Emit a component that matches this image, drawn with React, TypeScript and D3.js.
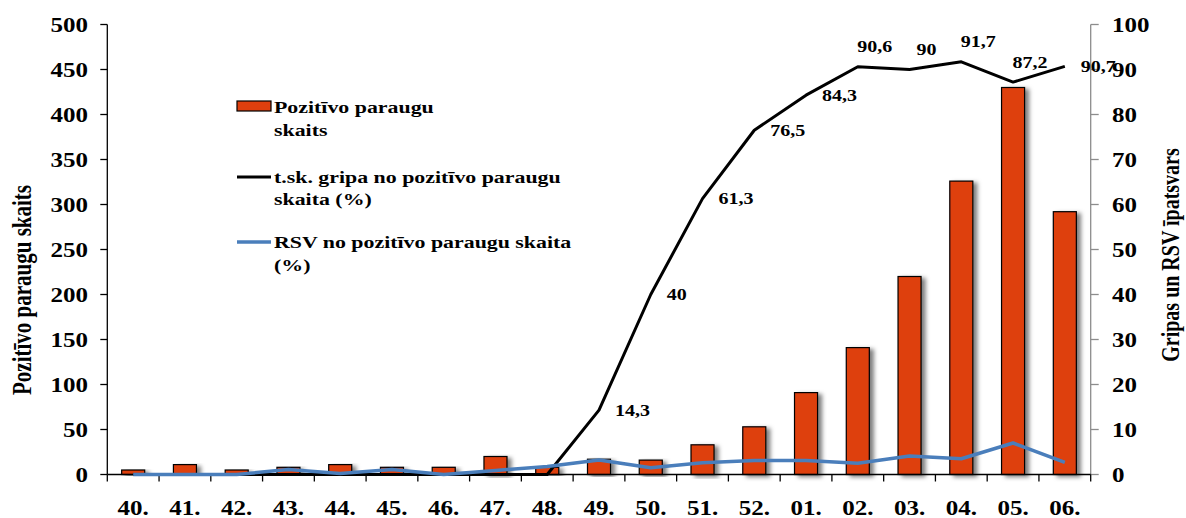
import React from 'react';
import * as d3 from 'd3';

const weeks = ['40.', '41.', '42.', '43.', '44.', '45.', '46.', '47.', '48.', '49.', '50.', '51.', '52.', '01.', '02.', '03.', '04.', '05.', '06.'];
const positiveCounts = [5, 11, 5, 8, 11, 8, 8, 20, 8, 17, 16, 33, 53, 91, 141, 220, 326, 430, 292];
const fluShare = [0, 0, 0, 0, 0, 0, 0, 0, 0, 14.3, 40, 61.3, 76.5, 84.3, 90.6, 90, 91.7, 87.2, 90.7];
const rsvShare = [0, 0, 0, 1.1, 0.2, 1.1, 0, 0.9, 1.8, 3.2, 1.5, 2.6, 3.1, 3.1, 2.5, 4.1, 3.5, 7.0, 2.7];
const fluLabelPlacement = ['', '', '', '', '', '', '', '', '', 'right', 'right', 'right', 'right', 'right', 'above', 'above', 'above', 'above', 'right'];
const leftTicks = [0, 50, 100, 150, 200, 250, 300, 350, 400, 450, 500];
const rightTicks = [0, 10, 20, 30, 40, 50, 60, 70, 80, 90, 100];

const W = 1186;
const H = 518;
const FONT = "'Liberation Serif', 'Times New Roman', serif";
const SX = 1.25;
const ORANGE = '#DE3F0E';
const BLUE = '#4A7EBB';

function T({ x, y, anchor = 'start', size = 20, rotate = false, children }: any) {
  return (
    <text
      transform={`translate(${x},${y}) scale(${SX},1)${rotate ? ' rotate(-90)' : ''}`}
      textAnchor={anchor}
      dy="0.35em"
      fontSize={size}
      fontWeight="bold"
      fontFamily={FONT}
      fill="#000"
    >
      {children}
    </text>
  );
}

export default function App() {
  const left = 107.3;
  const right = 1090.7;
  const top = 24.5;
  const bottom = 474.5;

  const x = d3.scaleBand<string>().domain(weeks).range([left, right]).paddingInner(0).paddingOuter(0);
  const yL = d3.scaleLinear().domain([0, 500]).range([bottom, top]);
  const yR = d3.scaleLinear().domain([0, 100]).range([bottom, top]);
  const bw = x.bandwidth();
  const barW = bw * 0.445;
  const cx = (w: string) => (x(w) as number) + bw / 2;

  const line = d3
    .line<number>()
    .x((_, i) => cx(weeks[i]))
    .y((v) => yR(v))
    .curve(d3.curveLinear);

  const boundaries = d3.range(weeks.length + 1).map((i) => left + i * bw);

  return (
    <svg width={W} height={H} style={{ position: 'absolute', left: 0, top: 0, background: '#fff' }}>
      <defs>
        <filter id="shadow" x="-30%" y="-10%" width="180%" height="125%">
          <feDropShadow dx="4" dy="2" stdDeviation="2" floodColor="#000" floodOpacity="0.5" />
        </filter>
      </defs>
      <rect width={W} height={H} fill="#fff" />

      {/* bars */}
      {positiveCounts.map((v, i) => (
        <rect
          key={i}
          x={cx(weeks[i]) - barW / 2}
          y={yL(v)}
          width={barW}
          height={bottom - yL(v)}
          fill={ORANGE}
          stroke="#000"
          strokeWidth={1.2}
          filter="url(#shadow)"
        />
      ))}

      {/* left axis */}
      <line x1={left} x2={left} y1={top} y2={bottom} stroke="#000" strokeWidth={1.3} />
      {leftTicks.map((t) => (
        <g key={t}>
          <line x1={left - 7} x2={left} y1={yL(t)} y2={yL(t)} stroke="#000" strokeWidth={1.3} />
          <T x={88} y={yL(t)} anchor="end">{t}</T>
        </g>
      ))}

      {/* right axis */}
      <line x1={right} x2={right} y1={top} y2={bottom} stroke="#8c8c8c" strokeWidth={1.3} />
      {rightTicks.map((t) => (
        <g key={t}>
          <line x1={right} x2={right + 8} y1={yR(t)} y2={yR(t)} stroke="#8c8c8c" strokeWidth={1.3} />
          <T x={1112} y={yR(t)} anchor="start">{t}</T>
        </g>
      ))}

      {/* x axis */}
      <line x1={left} x2={right} y1={bottom} y2={bottom} stroke="#000" strokeWidth={1.3} />
      {boundaries.map((b, i) => (
        <line key={i} x1={b} x2={b} y1={bottom} y2={bottom + 7} stroke="#000" strokeWidth={1.3} />
      ))}
      {weeks.map((w) => (
        <T key={w} x={cx(w)} y={508} anchor="middle">{w}</T>
      ))}

      {/* lines */}
      <path d={line(fluShare) as string} fill="none" stroke="#000" strokeWidth={3} strokeLinejoin="round" />
      <path d={line(rsvShare) as string} fill="none" stroke={BLUE} strokeWidth={3.5} strokeLinejoin="round" />

      {/* data labels */}
      {fluShare.map((v, i) => {
        const p = fluLabelPlacement[i];
        if (!p) return null;
        const px = cx(weeks[i]);
        const py = yR(v);
        const txt = String(v).replace('.', ',');
        if (p === 'right') {
          return (
            <T key={i} x={px + 16} y={py} anchor="start" size={16}>{txt}</T>
          );
        }
        return (
          <T key={i} x={px + 17} y={py - 20} anchor="middle" size={16}>{txt}</T>
        );
      })}

      {/* axis titles */}
      <T x={22} y={290} anchor="middle" rotate size={21}>Pozitīvo  paraugu skaits</T>
      <T x={1170} y={255} anchor="middle" rotate size={20}>Gripas un RSV īpatsvars</T>

      {/* legend */}
      <rect x={237} y={101} width={34} height={10} fill={ORANGE} stroke="#000" strokeWidth={1.2} />
      <T x={274} y={107} size={17.5}>Pozitīvo paraugu</T>
      <T x={274} y={130} size={17.5}>skaits</T>
      <line x1={237} x2={271} y1={177} y2={177} stroke="#000" strokeWidth={3} />
      <T x={274} y={177} size={17.5}>t.sk. gripa no pozitīvo paraugu</T>
      <T x={274} y={199} size={17.5}>skaita (%)</T>
      <line x1={237} x2={271} y1={242} y2={242} stroke={BLUE} strokeWidth={3.5} />
      <T x={274} y={242} size={17.5}>RSV no  pozitīvo paraugu skaita</T>
      <T x={274} y={265} size={17.5}>(%)</T>
    </svg>
  );
}
